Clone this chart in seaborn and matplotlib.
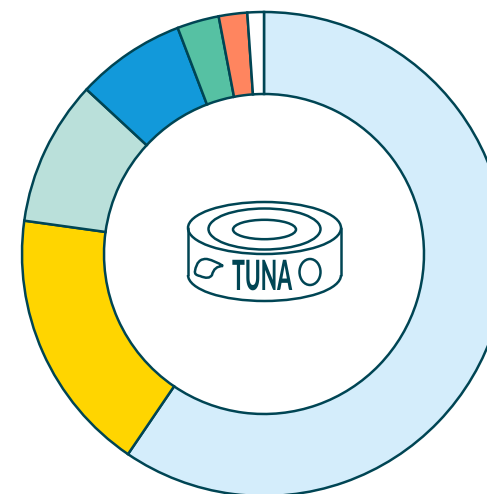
import matplotlib
matplotlib.use('Agg')
import matplotlib.pyplot as plt
from matplotlib.patches import Ellipse, Arc, PathPatch
from matplotlib.path import Path
from matplotlib.patheffects import AbstractPathEffect
from matplotlib.transforms import Affine2D
import seaborn as sns

# share of each slice, clockwise from the top
categories = ['light blue', 'yellow', 'pale teal', 'blue', 'green', 'orange', 'other']
shares = [59.5, 17.7, 9.7, 7.3, 2.8, 1.9, 1.1]
colors = ['#D4EDFB', '#FFD500', '#BAE0DA', '#1299DA', '#56C1A3', '#FF855F', '#FFFFFF']
label = 'TUNA'

ink = '#004554'
lw = 1.8


# squeeze text sideways, no condensed font is installed
class Squeeze(AbstractPathEffect):
    def __init__(self, cx, sx):
        super().__init__()
        self.cx = cx
        self.sx = sx

    def draw_path(self, renderer, gc, tpath, affine, rgbFace=None):
        squeeze = Affine2D().translate(-self.cx, 0).scale(self.sx, 1).translate(self.cx, 0)
        renderer.draw_path(gc, tpath, affine + squeeze, rgbFace)


sns.set_theme(style='white')
palette = sns.color_palette(colors)

fig = plt.figure(figsize=(4.87, 4.94), dpi=100)

# donut, limits chosen so the ring sits off-centre and gets clipped like the original
ax = fig.add_axes([0, 0, 1, 1])
ax.pie(shares, colors=palette, startangle=90, counterclock=False, radius=242,
       center=(264, 240), frame=True,
       wedgeprops=dict(width=82, edgecolor=ink, linewidth=lw))
ax.set_xlim(0, 487)
ax.set_ylim(0, 494)
ax.axis('off')

# tin icon, in pixel coordinates
icon = fig.add_axes([0, 0, 1, 1])
icon.set_xlim(0, 487)
icon.set_ylim(494, 0)
icon.axis('off')
icon.patch.set_alpha(0)

for cy, rx, ry in [(228, 76.5, 26), (229, 56, 20.5), (229.5, 31.5, 9.7)]:
    icon.add_patch(Ellipse((264.5, cy), 2 * rx, 2 * ry, fill=False, ec=ink, lw=lw))
icon.plot([188, 188], [228, 275], color=ink, lw=lw)
icon.plot([341, 341], [228, 275], color=ink, lw=lw)
icon.add_patch(Arc((264.5, 275), 153, 52, theta1=0, theta2=180, ec=ink, lw=lw))
icon.add_patch(Ellipse((310, 272), 21, 26, fill=False, ec=ink, lw=lw))

blob = Path([(195, 271), (197, 258), (207, 259), (216, 261), (223, 266),
             (214, 266), (212, 275), (209, 280), (200, 276), (194, 275), (195, 271)],
            [Path.MOVETO] + [Path.CURVE3] * 10)
icon.add_patch(PathPatch(blob, fill=False, ec=ink, lw=lw))

icon.text(262, 278, label, color=ink, fontsize=30, fontweight='black', ha='center', va='center',
          family=['Lato', 'Roboto', 'DejaVu Sans'],
          path_effects=[Squeeze(262, 0.51)])

fig.savefig('out.png', dpi=100)
